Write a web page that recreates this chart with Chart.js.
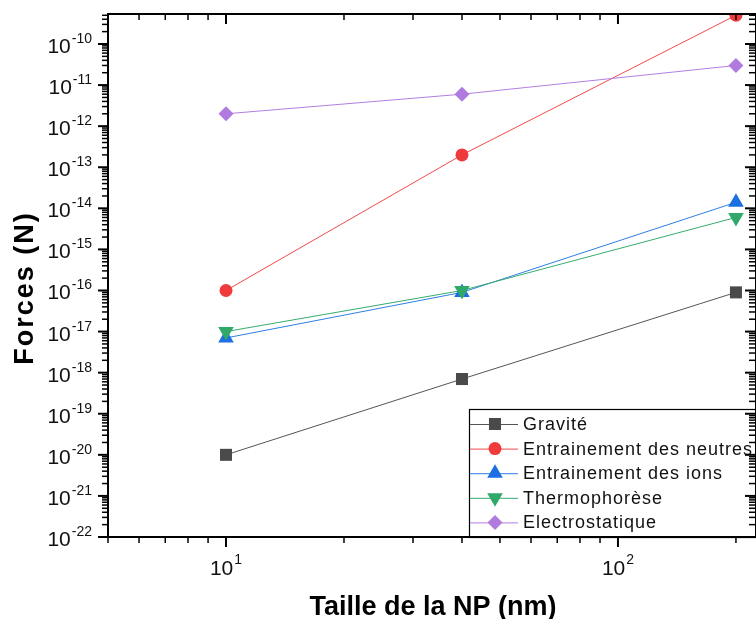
<!DOCTYPE html>
<html><head><meta charset="utf-8">
<script src="https://cdn.jsdelivr.net/npm/chart.js@4/dist/chart.umd.min.js"></script>
<style>
html,body{margin:0;padding:0;overflow:hidden;background:#fff;width:756px;height:619px}
canvas{display:block}
</style>
</head><body><canvas id="c" width="756" height="619"></canvas>
<script>
// ---- data ----
const sizes = [10, 40, 200];                        // Taille de la NP (nm)
const gravite = [1e-20, 7e-19, 9e-17];
const neutres = [1e-16, 2e-13, 5e-10];
const ions = [7e-18, 9e-17, 1.4e-14];
const thermo = [1e-17, 1e-16, 6e-15];
const electro = [2e-12, 6e-12, 3e-11];
const seriesNames = ['Gravité', 'Entrainement des neutres', 'Entrainement des ions', 'Thermophorèse', 'Electrostatique'];
const yTickExponents = [-22, -21, -20, -19, -18, -17, -16, -15, -14, -13, -12, -11, -10];
const xTickExponents = [1, 2];
const xTitle = 'Taille de la NP (nm)';
const yTitle = 'Forces (N)';

// ---- styles ----
const seriesValues = [gravite, neutres, ions, thermo, electro];
const markerColors = ['#4a4a4a', '#ef3b3b', '#1b6fe0', '#2fa86a', '#b07ade'];
const lineColors = ['#555555', '#f24a4a', '#2f7ee8', '#35ac6e', '#b27ee0'];
const pStyles = ['rect', 'circle', 'triangle', 'triangle', 'rectRot'];
const pRadius = [8.5, 6.5, 9, 9, 7.5];
const pRot = [0, 0, 0, 180, 0];
const FONT = '"Liberation Sans", Arial, sans-serif';

function drawMarker(ctx, i, x, y) {
  ctx.save();
  ctx.fillStyle = markerColors[i];
  if (Chart.helpers && Chart.helpers.drawPoint) {
    Chart.helpers.drawPoint(ctx, {pointStyle: pStyles[i], radius: pRadius[i], rotation: pRot[i], borderWidth: 0}, x, y);
  } else {
    ctx.beginPath(); ctx.arc(x, y, pRadius[i], 0, Math.PI * 2); ctx.fill();
  }
  ctx.restore();
}

const axesPlugin = {
  id: 'originAxes',
  afterDatasetsDraw(chart) {
    const ctx = chart.ctx, a = chart.chartArea;
    const xs = chart.scales.x, ys = chart.scales.y;
    ctx.save();
    // legend box
    const lx = 469, ly = 409, lr = a.right + 2, lb = a.bottom;
    ctx.fillStyle = '#fff';
    ctx.fillRect(lx, ly, lr - lx, lb - ly);
    ctx.strokeStyle = '#000'; ctx.lineWidth = 1.2;
    ctx.strokeRect(lx + 0.5, ly + 0.5, lr - lx, lb - ly);
    for (let i = 0; i < seriesNames.length; i++) {
      const ry = 424 + i * 24.6;
      ctx.strokeStyle = lineColors[i]; ctx.lineWidth = 1;
      ctx.beginPath(); ctx.moveTo(470, ry + 0.5); ctx.lineTo(518, ry + 0.5); ctx.stroke();
      drawMarker(ctx, i, 495, ry);
      ctx.fillStyle = '#111';
      ctx.font = '18px ' + FONT;
      ctx.letterSpacing = '1px';
      ctx.textAlign = 'left'; ctx.textBaseline = 'middle';
      ctx.fillText(seriesNames[i], 523, ry + 1);
      ctx.letterSpacing = '0px';
    }
    // frame
    ctx.strokeStyle = '#000'; ctx.lineWidth = 2;
    ctx.strokeRect(a.left, a.top, a.right - a.left, a.bottom - a.top);
    // ticks
    const yMaj = [], yMin = [];
    for (let e = -22; e <= -10; e++) {
      yMaj.push(Math.pow(10, e));
      for (let m = 2; m <= 9; m++) { const v = m * Math.pow(10, e); if (v <= ys.max) yMin.push(v); }
    }
    const xMaj = [], xMin = [];
    for (let e = 0; e <= 2; e++) {
      if (e > 0) xMaj.push(Math.pow(10, e));
      for (let m = 2; m <= 9; m++) { const v = m * Math.pow(10, e); if (v >= xs.min && v <= xs.max) xMin.push(v); }
    }
    ctx.strokeStyle = '#000';
    const tick = (x1, y1, x2, y2, w) => { ctx.lineWidth = w; ctx.beginPath(); ctx.moveTo(x1, y1); ctx.lineTo(x2, y2); ctx.stroke(); };
    yMaj.forEach(v => { const y = ys.getPixelForValue(v); tick(a.left - 10, y, a.left, y, 2); tick(a.right, y, a.right - 11, y, 2); });
    yMin.forEach(v => { const y = ys.getPixelForValue(v); tick(a.left - 6, y, a.left, y, 1.5); tick(a.right, y, a.right - 7, y, 1.5); });
    xMaj.forEach(v => { const x = xs.getPixelForValue(v); tick(x, a.bottom, x, a.bottom + 10, 2); tick(x, a.top, x, a.top + 10, 2); });
    xMin.forEach(v => { const x = xs.getPixelForValue(v); tick(x, a.bottom, x, a.bottom + 6, 1.5); tick(x, a.top, x, a.top + 6, 1.5); });
    // y tick labels
    ctx.fillStyle = '#111'; ctx.textBaseline = 'alphabetic'; ctx.textAlign = 'left';
    yTickExponents.forEach(e => {
      const y = ys.getPixelForValue(Math.pow(10, e));
      const ex = String(e);
      ctx.font = '14px ' + FONT; const ew = ctx.measureText(ex).width;
      ctx.font = '21px ' + FONT; const bw = ctx.measureText('10').width;
      const R = 92;
      ctx.fillText('10', R - ew - bw - 1, y + 9);
      ctx.font = '14px ' + FONT; ctx.fillText(ex, R - ew, y - 1);
    });
    // x tick labels
    xTickExponents.forEach(e => {
      const x = xs.getPixelForValue(Math.pow(10, e));
      const ex = String(e);
      ctx.font = '14px ' + FONT; const ew = ctx.measureText(ex).width;
      ctx.font = '21px ' + FONT; const bw = ctx.measureText('10').width;
      const x0 = x - (bw + ew + 1) / 2;
      ctx.fillText('10', x0, a.bottom + 38);
      ctx.font = '14px ' + FONT; ctx.fillText(ex, x0 + bw + 1, a.bottom + 27);
    });
    // titles
    ctx.fillStyle = '#000';
    ctx.font = 'bold 27px ' + FONT; ctx.textAlign = 'center'; ctx.textBaseline = 'alphabetic';
    ctx.fillText(xTitle, 433, 615);
    ctx.save();
    ctx.translate(33, 288); ctx.rotate(-Math.PI / 2);
    ctx.font = 'bold 27px ' + FONT;
    ctx.letterSpacing = '2px';
    ctx.fillText(yTitle, 0, 0);
    ctx.restore();
    ctx.restore();
  }
};

new Chart(document.getElementById('c'), {
  type: 'line',
  data: {
    datasets: seriesNames.map((name, i) => ({
      label: name,
      data: sizes.map((s, j) => ({x: s, y: seriesValues[i][j]})),
      borderColor: lineColors[i],
      backgroundColor: markerColors[i],
      pointBackgroundColor: markerColors[i],
      pointBorderColor: markerColors[i],
      pointBorderWidth: 0,
      pointStyle: pStyles[i],
      pointRadius: pRadius[i],
      pointRotation: pRot[i],
      borderWidth: 1,
      tension: 0,
      clip: 0,
      order: 4 - i
    }))
  },
  options: {
    responsive: false,
    animation: false,
    devicePixelRatio: 1,
    events: [],
    layout: {autoPadding: false, padding: {left: 108, top: 14, right: -2, bottom: 82}},
    plugins: {legend: {display: false}, tooltip: {enabled: false}},
    scales: {
      x: {type: 'logarithmic', min: 5, max: 225, display: false},
      y: {type: 'logarithmic', min: 1e-22, max: 5.37e-10, display: false}
    }
  },
  plugins: [axesPlugin]
});
</script>
</body></html>
